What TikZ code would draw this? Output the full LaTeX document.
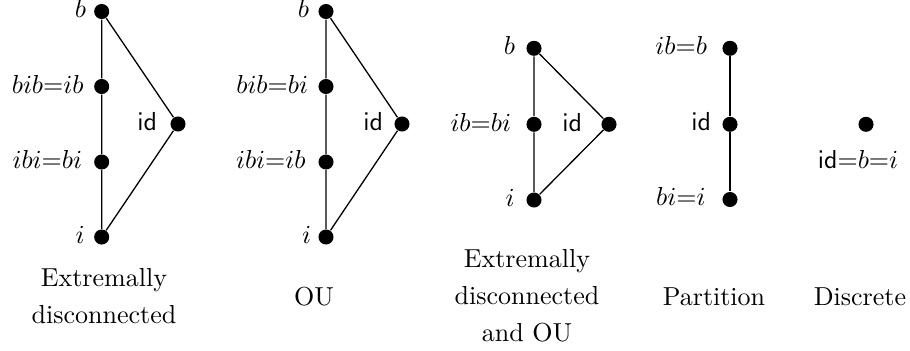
\documentclass[tikz,border=0pt]{standalone}
\begin{document}
\begin{tikzpicture}[x=0.3846pt,y=-0.3846pt,
  dot/.style={circle,fill=black,draw=none,inner sep=0pt,minimum size=5.8pt},
  edge/.style={line width=0.5pt},
  lab/.style={inner sep=0pt,anchor=base east},
  captext/.style={inner sep=0pt,align=center,font=\fontsize{10pt}{14.2pt}\selectfont}]
\useasboundingbox (0,0) rectangle (910,351);
% Diagram 1: Extremally disconnected
\node[dot] (b1) at (101.7,11.5) {};
\node[dot] (m1) at (101.7,86.5) {};
\node[dot] (n1) at (101.7,162) {};
\node[dot] (i1) at (101.7,237) {};
\node[dot] (d1) at (178,124) {};
\draw[edge] (b1) -- (m1) -- (n1) -- (i1) -- (d1) -- (b1);
\node[lab] (lb1) at (86.5,17.5) {$b$};
\node[lab] (lm1) at (84,93) {$bib{=}ib$};
\node[lab] (ln1) at (82.5,168.3) {$ibi{=}bi$};
\node[lab] (li1) at (85,243.3) {$i$};
\node[lab] (ld1) at (157.5,130.3) {$\mathsf{id}$};
\node[captext,anchor=north] (c1) at (104,268) {Extremally\\disconnected};
% Diagram 2: OU
\node[dot] (b2) at (326,11.5) {};
\node[dot] (m2) at (326,86.5) {};
\node[dot] (n2) at (326,162) {};
\node[dot] (i2) at (326,237) {};
\node[dot] (d2) at (402,124) {};
\draw[edge] (b2) -- (m2) -- (n2) -- (i2) -- (d2) -- (b2);
\node[lab] (lb2) at (309.5,17.5) {$b$};
\node[lab] (lm2) at (308.5,93) {$bib{=}bi$};
\node[lab] (ln2) at (306,168.3) {$ibi{=}ib$};
\node[lab] (li2) at (311.5,243.3) {$i$};
\node[lab] (ld2) at (383.5,130.3) {$\mathsf{id}$};
\node[captext,anchor=base] (c2) at (314,305) {OU};
% Diagram 3: Extremally disconnected and OU
\node[dot] (b3) at (534,48.3) {};
\node[dot] (m3) at (534,124.3) {};
\node[dot] (i3) at (534,200) {};
\node[dot] (d3) at (609,124.3) {};
\draw[edge] (b3) -- (m3) -- (i3) -- (d3) -- (b3);
\node[lab] (lb3) at (515.5,54.6) {$b$};
\node[lab] (lm3) at (511.5,131) {$ib{=}bi$};
\node[lab] (li3) at (515,206.3) {$i$};
\node[lab] (ld3) at (582.5,131) {$\mathsf{id}$};
\node[captext,anchor=north] (c3) at (527,249) {Extremally\\disconnected\\and OU};
% Diagram 4: Partition
\node[dot] (b4) at (730,48.3) {};
\node[dot] (d4) at (730,124.3) {};
\node[dot] (i4) at (730,199.5) {};
\draw[edge] (b4) -- (d4) -- (i4);
\node[lab] (lb4) at (707.5,54.6) {$ib{=}b$};
\node[lab] (ld4) at (711.5,130.6) {$\mathsf{id}$};
\node[lab] (li4) at (706,205.5) {$bi{=}i$};
\node[captext,anchor=base] (c4) at (714,305) {Partition};
% Diagram 5: Discrete
\node[dot] (d5) at (866,124.3) {};
\node[inner sep=0pt,anchor=base] (ld5) at (858,168) {$\mathsf{id}{=}b{=}i$};
\node[captext,anchor=base] (c5) at (860,305) {Discrete};
\end{tikzpicture}
\end{document}
